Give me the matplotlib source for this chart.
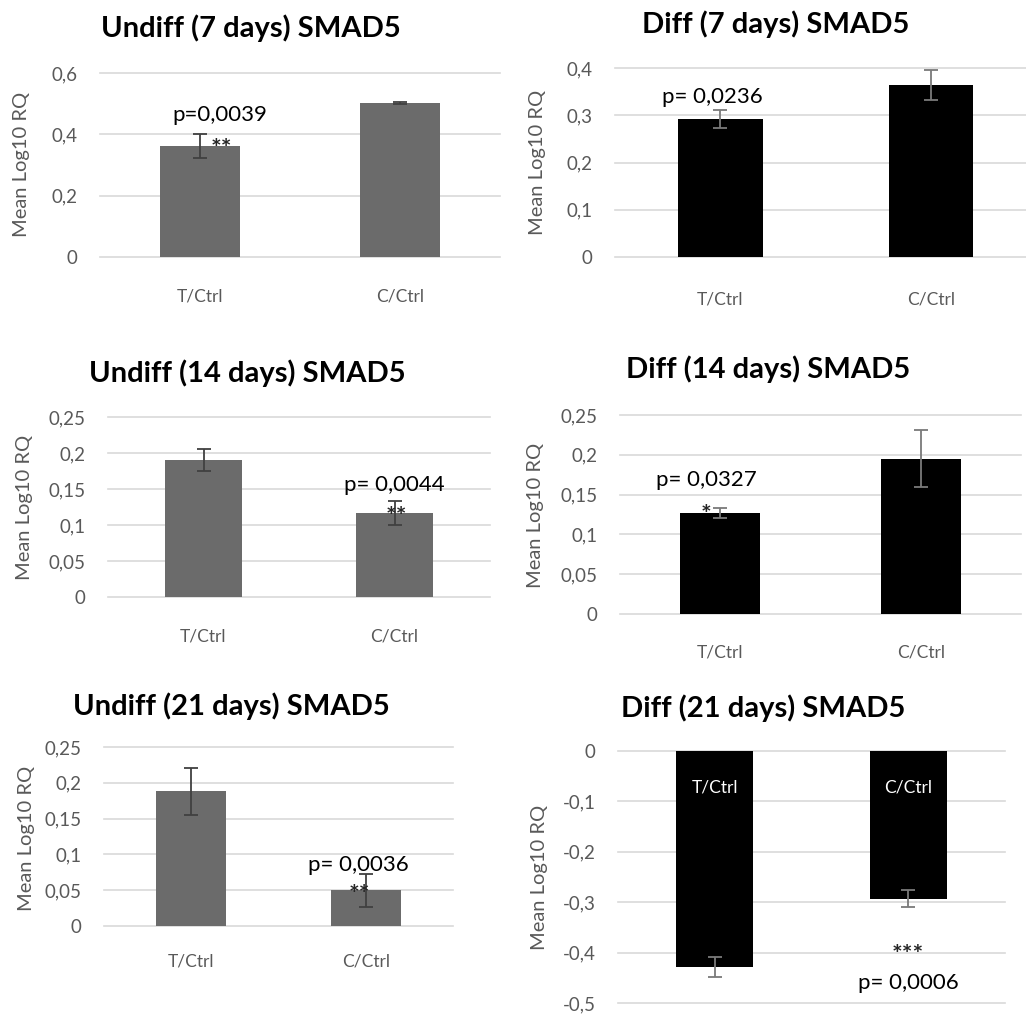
import numpy as np
import matplotlib
matplotlib.use("Agg")
import matplotlib.pyplot as plt
from matplotlib.ticker import FuncFormatter

plt.rcParams['font.family'] = ['Lato', 'DejaVu Sans']

W, H = 1026, 1027

cats = ['T/Ctrl', 'C/Ctrl']
titles = ['Undiff (7 days) SMAD5', 'Diff (7 days) SMAD5',
          'Undiff (14 days) SMAD5', 'Diff (14 days) SMAD5',
          'Undiff (21 days) SMAD5', 'Diff (21 days) SMAD5']

means_u7 = [0.362, 0.502]
err_u7 = [0.040, 0.004]
means_d7 = [0.292, 0.364]
err_d7 = [0.019, 0.032]
means_u14 = [0.190, 0.117]
err_u14 = [0.015, 0.017]
means_d14 = [0.127, 0.195]
err_d14 = [0.006, 0.036]
means_u21 = [0.188, 0.050]
err_u21 = [0.033, 0.023]
means_d21 = [-0.428, -0.293]
err_d21 = [0.020, 0.017]

pvals = ['p=0,0039', 'p= 0,0236', 'p= 0,0044', 'p= 0,0327', 'p= 0,0036', 'p= 0,0006']
stars = ['**', '', '**', '*', '**', '***']

GRAY = '#6b6b6b'
TXT = '#595959'
GRID = '#d9d9d9'

fig = plt.figure(figsize=(W / 100, H / 100), dpi=100)


def px_axes(l, t, r, b):
    return fig.add_axes([l / W, 1 - b / H, (r - l) / W, (b - t) / H])


def comma(v, pos):
    s = ('%.2f' % v).rstrip('0').rstrip('.')
    if s in ('-0', ''):
        s = '0'
    return s.replace('.', ',')


# (axes box in px, ylim, ytick step, color, means, errs, xlim right, xlabel pad)
panels = [
    ((100, 73, 500, 257), (0, 0.6), 0.2, GRAY, means_u7, err_u7, 1.5, 23),
    ((615, 68, 1026, 257), (0, 0.4), 0.1, 'black', means_d7, err_d7, 1.45, 25),
    ((108, 417, 490, 597), (0, 0.25), 0.05, GRAY, means_u14, err_u14, 1.5, 23),
    ((620, 415, 1021, 614), (0, 0.25), 0.05, 'black', means_d14, err_d14, 1.5, 22),
    ((104, 747, 453, 926), (0, 0.25), 0.05, GRAY, means_u21, err_u21, 1.5, 20),
    ((618, 751, 1005, 1003), (-0.5, 0), 0.1, 'black', means_d21, err_d21, 1.5, 0),
]

# title positions (center x, baseline y) and ylabel positions in px
title_pos = [(251, 37), (776, 33), (247, 382), (768, 378), (231, 715), (763, 717)]
ylab_pos = [(22, 164), (538, 162), (25, 507), (535, 515), (27, 838), (540, 877)]

# annotation positions in data coords: (p x, p y, star x, star y)
ann = [
    (0.10, 0.463, 0.105, 0.352),
    (-0.04, 0.339, 0, 0),
    (1.00, 0.156, 1.01, 0.110),
    (-0.07, 0.168, -0.07, 0.124),
    (0.96, 0.085, 0.966, 0.042),
    (1.00, -0.46, 1.00, -0.405),
]

x = np.arange(len(cats))
for i, (box, ylim, step, col, m, e, xr, xpad) in enumerate(panels):
    ax = px_axes(*box)
    ecol = '#404040' if col == GRAY else '#7a7a7a'
    ax.bar(x, m, width=0.4, color=col, zorder=2)
    ax.errorbar(x, m, yerr=e, fmt='none', ecolor=ecol, elinewidth=1.3,
                capsize=5, capthick=1.3, zorder=3)
    ax.set_xlim(-0.5, xr)
    ax.set_ylim(*ylim)
    ax.set_yticks(np.round(np.arange(ylim[0], ylim[1] + step / 2, step), 3))
    ax.yaxis.set_major_formatter(FuncFormatter(comma))
    ax.yaxis.grid(True, color=GRID, linewidth=1.2, zorder=0)
    for s in ax.spines.values():
        s.set_visible(False)
    ax.tick_params(axis='y', length=0, pad=16, labelsize=13.5, labelcolor=TXT)
    if i < 5:
        ax.set_xticks(x)
        ax.set_xticklabels(cats)
        ax.tick_params(axis='x', length=0, pad=xpad, labelsize=12.5, labelcolor=TXT)
    else:
        ax.set_xticks([])
        for xi, c in zip(x, cats):
            ax.text(xi, -0.073, c, ha='center', va='center', color='white', fontsize=12.5)
    for gl in ax.get_ygridlines():
        gl.set_clip_on(False)

    px_, py_, sx, sy = ann[i]
    ax.text(px_, py_, pvals[i], ha='center', va='center', fontsize=16, color='black', zorder=4)
    if stars[i]:
        ax.text(sx, sy, stars[i], ha='center', va='center', fontsize=18,
                fontweight='bold', color='#262626', zorder=4)

    tx, ty = title_pos[i]
    fig.text(tx / W, 1 - ty / H, titles[i], ha='center', va='baseline',
             fontsize=21, fontweight='bold', color='black')
    lx, ly = ylab_pos[i]
    fig.text(lx / W, 1 - ly / H, 'Mean Log10 RQ', ha='center', va='center',
             rotation=90, fontsize=14.5, color=TXT)

fig.savefig('out.png', dpi=100)
